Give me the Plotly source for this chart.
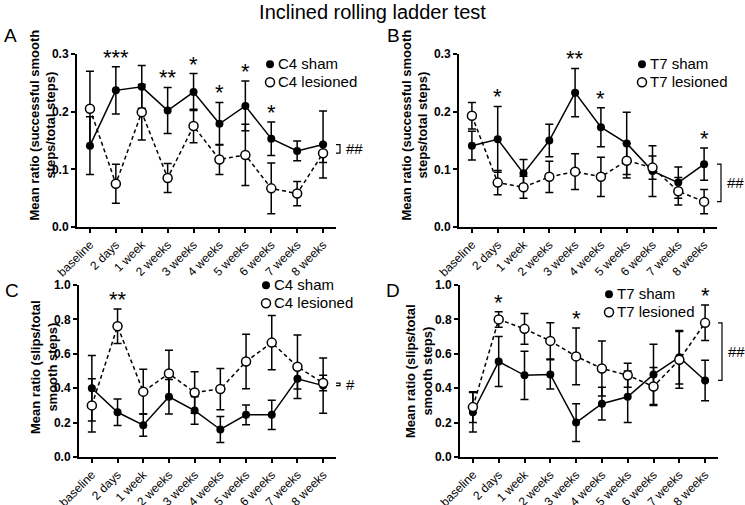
import plotly.graph_objects as go
from plotly.subplots import make_subplots

W, H = 745, 505

timepoints = ["baseline", "2 days", "1 week", "2 weeks", "3 weeks",
              "4 weeks", "5 weeks", "6 weeks", "7 weeks", "8 weeks"]

# Panel A: successful smooth steps, C4
a_sham_mean = [0.141, 0.237, 0.243, 0.202, 0.234, 0.179, 0.210, 0.153, 0.132, 0.143]
a_sham_err = [0.050, 0.041, 0.037, 0.040, 0.032, 0.037, 0.043, 0.029, 0.017, 0.058]
a_les_mean = [0.205, 0.075, 0.199, 0.085, 0.175, 0.117, 0.125, 0.067, 0.058, 0.128]
a_les_err = [0.065, 0.034, 0.048, 0.025, 0.029, 0.026, 0.053, 0.044, 0.021, 0.016]
a_stars = ["", "***", "", "**", "*", "*", "*", "*", "", ""]

# Panel B: successful smooth steps, T7
b_sham_mean = [0.141, 0.152, 0.093, 0.150, 0.233, 0.173, 0.145, 0.097, 0.077, 0.109]
b_sham_err = [0.025, 0.057, 0.024, 0.028, 0.042, 0.034, 0.054, 0.044, 0.027, 0.028]
b_les_mean = [0.193, 0.077, 0.069, 0.087, 0.096, 0.087, 0.115, 0.103, 0.062, 0.044]
b_les_err = [0.023, 0.021, 0.019, 0.027, 0.031, 0.034, 0.030, 0.020, 0.024, 0.021]
b_stars = ["", "*", "", "", "**", "*", "", "", "", "*"]

# Panel C: slips, C4
c_sham_mean = [0.400, 0.260, 0.185, 0.350, 0.270, 0.160, 0.245, 0.245, 0.455, 0.415]
c_sham_err = [0.190, 0.077, 0.065, 0.100, 0.080, 0.075, 0.057, 0.085, 0.060, 0.160]
c_les_mean = [0.300, 0.760, 0.380, 0.485, 0.375, 0.395, 0.555, 0.665, 0.525, 0.430]
c_les_err = [0.155, 0.100, 0.130, 0.135, 0.120, 0.120, 0.158, 0.158, 0.185, 0.045]
c_stars = ["", "**", "", "", "", "", "", "", "", ""]

# Panel D: slips, T7
d_sham_mean = [0.260, 0.555, 0.475, 0.480, 0.200, 0.310, 0.350, 0.480, 0.580, 0.445]
d_sham_err = [0.115, 0.145, 0.140, 0.085, 0.110, 0.095, 0.150, 0.175, 0.155, 0.118]
d_les_mean = [0.290, 0.800, 0.745, 0.675, 0.585, 0.515, 0.475, 0.410, 0.565, 0.780]
d_les_err = [0.090, 0.045, 0.090, 0.105, 0.165, 0.160, 0.070, 0.110, 0.165, 0.103]
d_stars = ["", "*", "", "", "*", "", "", "", "", "*"]

title_text = "Inclined rolling ladder test"
ytitle_top = "Mean ratio (successful smooth<br>steps/total steps)"
ytitle_bottom = "Mean ratio (slips/total<br>smooth steps)"

FONT = "Arial, Liberation Sans, sans-serif"


def px(x):
    return x / W


def py(y):
    return 1 - y / H


panels = [
    dict(letter="A", names=("C4 sham", "C4 lesioned"),
         sham=a_sham_mean, sham_err=a_sham_err, les=a_les_mean, les_err=a_les_err,
         stars=a_stars, sig="##", ytitle=ytitle_top, yrange=[0, 0.3], dtick=0.1,
         xdom=(77, 336), ydom=(54, 227), letter_pos=(2, 35), title_pos=(42.5, 125),
         legend_pos=(270, 63)),
    dict(letter="B", names=("T7 sham", "T7 lesioned"),
         sham=b_sham_mean, sham_err=b_sham_err, les=b_les_mean, les_err=b_les_err,
         stars=b_stars, sig="##", ytitle=ytitle_top, yrange=[0, 0.3], dtick=0.1,
         xdom=(459, 717), ydom=(54, 227), letter_pos=(385, 35), title_pos=(414.5, 125),
         legend_pos=(642, 63)),
    dict(letter="C", names=("C4 sham", "C4 lesioned"),
         sham=c_sham_mean, sham_err=c_sham_err, les=c_les_mean, les_err=c_les_err,
         stars=c_stars, sig="#", ytitle=ytitle_bottom, yrange=[0, 1.0], dtick=0.2,
         xdom=(79, 336), ydom=(285, 457), letter_pos=(3, 290), title_pos=(44, 367),
         legend_pos=(266, 284)),
    dict(letter="D", names=("T7 sham", "T7 lesioned"),
         sham=d_sham_mean, sham_err=d_sham_err, les=d_les_mean, les_err=d_les_err,
         stars=d_stars, sig="##", ytitle=ytitle_bottom, yrange=[0, 1.0], dtick=0.2,
         xdom=(460, 718), ydom=(285, 457), letter_pos=(384, 290), title_pos=(419, 371),
         legend_pos=(609, 293)),
]

fig = make_subplots(rows=2, cols=2)
rc = [(1, 1), (1, 2), (2, 1), (2, 2)]

annotations = []
shapes = []
ROW_GAP = 18

for i, p in enumerate(panels):
    r, c = rc[i]
    sfx = "" if i == 0 else str(i + 1)
    leg_sham = "legend" if i == 0 else f"legend{2 * i + 1}"
    leg_les = f"legend{2 * i + 2}"
    sham_marker = dict(symbol="circle", size=8, color="black")
    les_marker = dict(symbol="circle", size=9, color="white",
                      line=dict(color="black", width=1.5))
    fig.add_trace(go.Scatter(
        x=timepoints, y=p["sham"], name=p["names"][0], mode="lines+markers",
        line=dict(color="black", width=1.5), marker=sham_marker,
        error_y=dict(type="data", array=p["sham_err"], visible=True,
                     color="black", thickness=1.5, width=4),
        showlegend=False), row=r, col=c)
    fig.add_trace(go.Scatter(
        x=timepoints, y=p["les"], name=p["names"][1], mode="lines+markers",
        line=dict(color="black", width=1.5, dash="4px,3px"), marker=les_marker,
        error_y=dict(type="data", array=p["les_err"], visible=True,
                     color="black", thickness=1.5, width=4),
        showlegend=False), row=r, col=c)
    # legend symbols (marker only); their labels are placed right beside them
    fig.add_trace(go.Scatter(x=[None], y=[None], name="", mode="markers",
                             marker=sham_marker, legend=leg_sham, showlegend=True,
                             hoverinfo="skip"), row=r, col=c)
    fig.add_trace(go.Scatter(x=[None], y=[None], name="", mode="markers",
                             marker=les_marker, legend=leg_les, showlegend=True,
                             hoverinfo="skip"), row=r, col=c)

    mx, my = p["legend_pos"]
    for j, leg in enumerate([leg_sham, leg_les]):
        fig.update_layout({leg: dict(
            x=px(mx - 20), y=py(my + j * ROW_GAP - 15), xanchor="left", yanchor="top",
            bgcolor="rgba(0,0,0,0)", borderwidth=0,
            font=dict(family=FONT, size=15, color="black"),
            itemwidth=30)})
        annotations.append(dict(
            x=px(mx + 6), y=py(my + j * ROW_GAP), xref="paper", yref="paper",
            text=p["names"][j], showarrow=False, xanchor="left", yanchor="middle",
            font=dict(family=FONT, size=15, color="black")))

    x0, x1 = p["xdom"]
    y0, y1 = p["ydom"]
    fig.update_layout({
        f"xaxis{sfx}": dict(
            domain=[px(x0), px(x1)], type="category", range=[-0.5, 9.5],
            showline=True, linecolor="black", linewidth=2, mirror=False,
            ticks="outside", ticklen=4, tickwidth=1.5, tickcolor="black",
            tickangle=-45, tickfont=dict(family=FONT, size=12, color="black"),
            showgrid=False, zeroline=False, anchor=f"y{sfx}", automargin=False),
        f"yaxis{sfx}": dict(
            domain=[py(y1), py(y0)], range=p["yrange"], dtick=p["dtick"],
            tick0=0, tickformat=".1f",
            showline=True, linecolor="black", linewidth=2,
            ticks="outside", ticklen=4, tickwidth=1.5, tickcolor="black",
            tickfont=dict(family=FONT, size=12, color="black", weight="bold"),
            showgrid=False, zeroline=False, anchor=f"x{sfx}", automargin=False),
    })

    xref, yref = f"x{sfx}", f"y{sfx}"
    for k, s in enumerate(p["stars"]):
        if s:
            top = max(p["sham"][k] + p["sham_err"][k], p["les"][k] + p["les_err"][k])
            annotations.append(dict(
                x=timepoints[k], y=top, xref=xref, yref=yref, text=s,
                showarrow=False, xanchor="center", yanchor="bottom", yshift=-5,
                font=dict(family=FONT, size=22, color="black")))
    ya, yb = p["sham"][-1], p["les"][-1]
    ytop, ybot = max(ya, yb), min(ya, yb)
    bx = x1 + 4
    shapes.append(dict(
        type="path", xref="paper", yref=yref,
        path=f"M {px(bx - 4)} {ytop} L {px(bx)} {ytop} L {px(bx)} {ybot} L {px(bx - 4)} {ybot}",
        line=dict(color="black", width=1.2)))
    annotations.append(dict(
        x=px(bx + 4), y=(ytop + ybot) / 2, xref="paper", yref=yref, text=p["sig"],
        showarrow=False, xanchor="left", yanchor="middle",
        font=dict(family=FONT, size=15, color="black")))
    lx, ly = p["letter_pos"]
    annotations.append(dict(
        x=px(lx), y=py(ly), xref="paper", yref="paper", text=p["letter"],
        showarrow=False, xanchor="left", yanchor="middle",
        font=dict(family=FONT, size=19, color="black")))
    tx, ty = p["title_pos"]
    annotations.append(dict(
        x=px(tx), y=py(ty), xref="paper", yref="paper", text=p["ytitle"],
        showarrow=False, xanchor="center", yanchor="middle", textangle=-90,
        align="center",
        font=dict(family=FONT, size=13, color="black", weight="bold")))

fig.update_layout(
    width=W, height=H,
    margin=dict(l=0, r=0, t=0, b=0),
    paper_bgcolor="white", plot_bgcolor="white",
    title=dict(text=title_text, x=0.5, xanchor="center", y=py(12), yanchor="middle",
               font=dict(family=FONT, size=20, color="black")),
    annotations=annotations, shapes=shapes,
    font=dict(family=FONT, color="black"),
)

fig.write_html(
    "out.html",
    config={"displayModeBar": False},
    post_script="document.body.style.margin='0px';document.body.style.padding='0px';",
)
